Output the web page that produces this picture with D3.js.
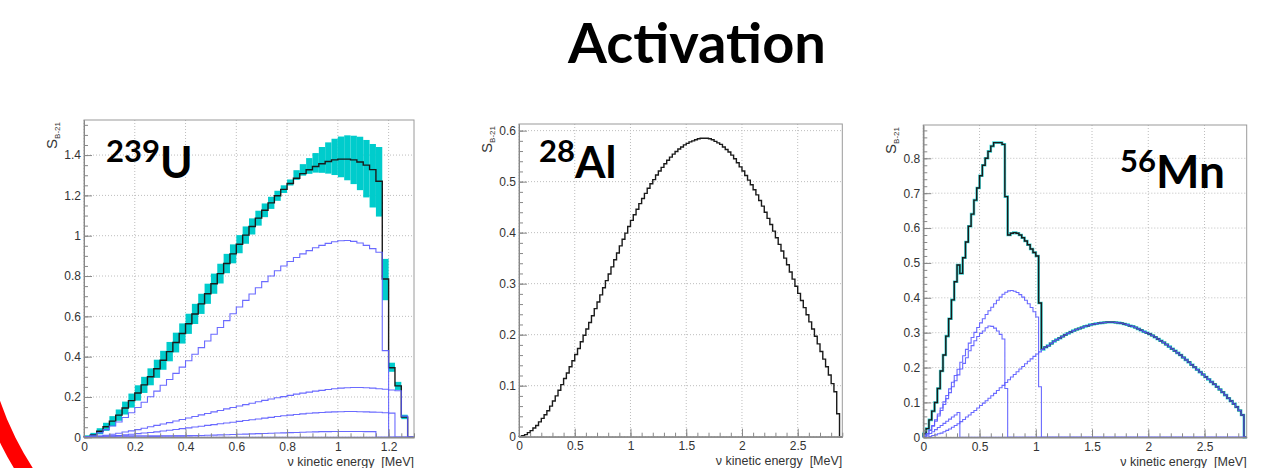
<!DOCTYPE html>
<html>
<head>
<meta charset="utf-8">
<script src="https://cdn.jsdelivr.net/npm/d3@7"></script>
<style>
  html, body { margin: 0; padding: 0; background: #fff; }
  svg { display: block; }
</style>
</head>
<body>
<svg id="chart" width="1270" height="468"></svg>
<script>
// ---------------------------------------------------------------
// Antineutrino spectra S_B-21 from activation products, 0.025 MeV bins
// ---------------------------------------------------------------
const binWidth = 0.025;

// ---- 239U ----
const u239XTicks = [0, 0.2, 0.4, 0.6, 0.8, 1, 1.2];
const u239YTicks = [0, 0.2, 0.4, 0.6, 0.8, 1, 1.2, 1.4];
const u239Total = [
  0.003,0.012,0.030,0.052,0.080,0.110,0.145,0.182,0.220,0.260,
  0.300,0.340,0.382,0.425,0.470,0.515,0.563,0.612,0.662,0.712,
  0.762,0.812,0.862,0.910,0.958,1.003,1.046,1.087,1.126,1.163,
  1.198,1.230,1.259,1.285,1.308,1.327,1.343,1.357,1.368,1.376,
  1.380,1.380,1.376,1.366,1.350,1.328,1.270,0.785,0.345,0.255,
  0.100,0];
const u239BandLow = [
  0.000,0.002,0.015,0.032,0.055,0.082,0.113,0.147,0.182,0.220,
  0.258,0.295,0.335,0.377,0.421,0.465,0.513,0.562,0.612,0.662,
  0.712,0.763,0.814,0.863,0.913,0.960,1.006,1.050,1.092,1.133,
  1.173,1.212,1.249,1.277,1.298,1.307,1.313,1.312,1.308,1.301,
  1.290,1.275,1.256,1.226,1.190,1.140,1.095,0.680,0.325,0.235,
  0.090,0];
const u239BandHigh = [
  0.010,0.022,0.045,0.072,0.105,0.138,0.177,0.217,0.258,0.300,
  0.342,0.385,0.429,0.473,0.519,0.565,0.613,0.662,0.712,0.762,
  0.812,0.861,0.910,0.957,1.003,1.046,1.086,1.124,1.160,1.193,
  1.223,1.250,1.279,1.325,1.355,1.385,1.410,1.440,1.463,1.481,
  1.492,1.498,1.496,1.491,1.475,1.455,1.440,0.885,0.370,0.275,
  0.112,0];
const u239BranchA = [
  0.003,0.010,0.022,0.038,0.056,0.076,0.098,0.122,0.148,0.174,
  0.201,0.229,0.258,0.287,0.317,0.348,0.380,0.412,0.445,0.478,
  0.511,0.545,0.579,0.613,0.646,0.679,0.711,0.742,0.772,0.800,
  0.826,0.850,0.872,0.892,0.910,0.926,0.940,0.952,0.962,0.970,
  0.975,0.976,0.972,0.964,0.952,0.936,0.918,0.430,0,0,
  0,0];
const u239BranchB = [
  0.001,0.003,0.006,0.010,0.015,0.020,0.026,0.032,0.038,0.045,
  0.052,0.059,0.066,0.073,0.081,0.088,0.096,0.103,0.111,0.118,
  0.126,0.133,0.141,0.148,0.155,0.162,0.169,0.176,0.183,0.190,
  0.196,0.202,0.208,0.214,0.219,0.224,0.229,0.233,0.237,0.241,
  0.244,0.246,0.247,0.247,0.246,0.244,0.241,0.238,0.235,0.231,
  0.105,0];
const u239BranchC = [
  0.000,0.001,0.003,0.005,0.007,0.009,0.012,0.015,0.018,0.021,
  0.024,0.027,0.031,0.035,0.039,0.043,0.047,0.051,0.055,0.059,
  0.063,0.067,0.071,0.075,0.079,0.083,0.087,0.091,0.095,0.099,
  0.103,0.107,0.110,0.113,0.116,0.119,0.121,0.123,0.125,0.126,
  0.127,0.128,0.128,0.127,0.126,0.125,0.124,0.122,0.120,0,
  0,0];
const u239BranchD = [
  0.000,0.000,0.001,0.001,0.001,0.002,0.002,0.002,0.003,0.003,
  0.004,0.004,0.005,0.005,0.006,0.006,0.007,0.008,0.009,0.010,
  0.011,0.012,0.013,0.014,0.015,0.016,0.017,0.018,0.019,0.020,
  0.021,0.022,0.023,0.024,0.025,0.026,0.027,0.028,0.028,0.029,
  0.029,0.029,0.029,0.029,0.028,0.028,0,0,0,0,
  0,0];
const u239BranchE = [
  0.002,0.004,0.005,0.006,0.006,0.007,0.007,0.007,0.008,0.008,
  0.008,0.008,0.008,0.008,0.008,0.008,0.008,0.008];

// ---- 28Al ----
const al28XTicks = [0, 0.5, 1, 1.5, 2, 2.5];
const al28YTicks = [0, 0.1, 0.2, 0.3, 0.4, 0.5, 0.6];
const al28Total = [
  0.0005,0.002,0.004,0.008,0.012,0.017,0.022,0.029,0.036,0.043,
  0.051,0.060,0.070,0.080,0.091,0.102,0.114,0.125,0.137,0.149,
  0.161,0.173,0.186,0.199,0.211,0.224,0.237,0.251,0.264,0.278,
  0.292,0.306,0.319,0.333,0.347,0.360,0.374,0.387,0.399,0.412,
  0.424,0.435,0.446,0.457,0.467,0.477,0.487,0.496,0.504,0.513,
  0.521,0.528,0.535,0.542,0.548,0.554,0.559,0.564,0.568,0.572,
  0.575,0.578,0.580,0.582,0.584,0.585,0.585,0.585,0.584,0.582,
  0.579,0.576,0.573,0.568,0.563,0.558,0.552,0.545,0.537,0.529,
  0.521,0.512,0.503,0.494,0.484,0.474,0.463,0.452,0.440,0.428,
  0.416,0.403,0.390,0.377,0.364,0.350,0.337,0.323,0.309,0.295,
  0.281,0.267,0.253,0.239,0.225,0.211,0.197,0.182,0.167,0.152,
  0.137,0.121,0.104,0.088,0.045,0];

// ---- 56Mn ----
const mn56XTicks = [0, 0.5, 1, 1.5, 2, 2.5];
const mn56YTicks = [0, 0.1, 0.2, 0.3, 0.4, 0.5, 0.6, 0.7, 0.8];
const mn56Total = [
  0.010,0.025,0.050,0.075,0.100,0.140,0.190,0.236,0.290,0.340,
  0.394,0.446,0.494,0.470,0.515,0.560,0.605,0.640,0.680,0.715,
  0.750,0.780,0.800,0.820,0.835,0.845,0.845,0.845,0.840,0.690,
  0.580,0.585,0.587,0.585,0.580,0.572,0.563,0.552,0.540,0.530,
  0.520,0.385,0.252,0.258,0.263,0.269,0.275,0.280,0.284,0.289,
  0.294,0.298,0.302,0.306,0.309,0.312,0.315,0.318,0.320,0.323,
  0.324,0.326,0.327,0.328,0.329,0.330,0.330,0.330,0.329,0.328,
  0.327,0.325,0.323,0.320,0.318,0.315,0.311,0.307,0.303,0.300,
  0.296,0.292,0.287,0.282,0.277,0.272,0.266,0.260,0.254,0.248,
  0.242,0.236,0.229,0.222,0.215,0.208,0.201,0.194,0.187,0.180,
  0.173,0.166,0.159,0.152,0.145,0.137,0.129,0.121,0.112,0.104,
  0.096,0.087,0.077,0.064,0];
const mn56Branch2849 = [
  0.000,0.001,0.002,0.005,0.007,0.010,0.012,0.016,0.020,0.024,
  0.029,0.034,0.039,0.045,0.051,0.058,0.064,0.071,0.077,0.084,
  0.091,0.098,0.105,0.112,0.119,0.126,0.134,0.142,0.149,0.157,
  0.165,0.173,0.180,0.188,0.196,0.203,0.211,0.218,0.225,0.232,
  0.239,0.245,0.252,0.258,0.263,0.269,0.275,0.280,0.284,0.289,
  0.294,0.298,0.302,0.306,0.309,0.312,0.315,0.318,0.320,0.323,
  0.324,0.326,0.327,0.328,0.329,0.330,0.330,0.330,0.329,0.328,
  0.327,0.325,0.323,0.320,0.318,0.315,0.311,0.307,0.303,0.300,
  0.296,0.292,0.287,0.282,0.277,0.272,0.266,0.260,0.254,0.248,
  0.242,0.236,0.229,0.222,0.215,0.208,0.201,0.194,0.187,0.180,
  0.173,0.166,0.159,0.152,0.145,0.137,0.129,0.121,0.112,0.104,
  0.096,0.087,0.077,0.064,0];
const mn56Branch1038 = [
  0.003,0.010,0.021,0.034,0.050,0.067,0.084,0.102,0.120,0.139,
  0.158,0.177,0.195,0.215,0.234,0.252,0.270,0.286,0.301,0.315,
  0.328,0.340,0.352,0.363,0.373,0.383,0.393,0.402,0.410,0.416,
  0.420,0.421,0.419,0.415,0.409,0.402,0.393,0.383,0.372,0.360,
  0.345,0.145];
const mn56Branch736 = [
  0.003,0.010,0.020,0.032,0.046,0.061,0.077,0.094,0.111,0.128,
  0.145,0.162,0.179,0.196,0.212,0.228,0.248,0.263,0.277,0.289,
  0.298,0.305,0.314,0.319,0.318,0.313,0.305,0.295,0.282,0.140];
const mn56Branch326 = [
  0.002,0.006,0.011,0.016,0.022,0.028,0.034,0.040,0.046,0.052,
  0.058,0.064,0.071];

// ---------------------------------------------------------------
const svg = d3.select('#chart');
const FONT = '"Liberation Sans", Arial, Helvetica, sans-serif';
const BIG = 'Lato, "Open Sans", sans-serif';
const blue = '#5a5aff';

// slide title
svg.append('text')
  .attr('x', 697).attr('y', 63)
  .attr('text-anchor', 'middle')
  .attr('font-family', BIG).attr('font-weight', 700).attr('font-size', 56)
  .attr('fill', '#000')
  .text('Activation');

// red decorative arc at the lower-left corner
svg.append('path')
  .attr('transform', 'translate(284,304)')
  .attr('d', d3.arc()({ innerRadius: 300, outerRadius: 316, startAngle: 3.9, endAngle: 4.6 }))
  .attr('fill', '#ff0000');

function histPoints(values, nBins) {
  const pts = [[0, 0]];
  for (let i = 0; i < nBins; i++) pts.push([i * binWidth, values[i] ?? 0]);
  pts.push([nBins * binWidth, 0]);
  return pts;
}

function drawPanel(p) {
  const nBins = Math.round(p.xMax / binWidth);
  const x = d3.scaleLinear().domain([0, p.xMax]).range([p.left, p.right]);
  const y = d3.scaleLinear().domain([0, p.yMax]).range([p.bottom, p.top]);
  const g = svg.append('g');

  // dotted grid at the major ticks
  g.append('g').selectAll('line').data(p.xTicks).join('line')
    .attr('x1', d => x(d)).attr('x2', d => x(d))
    .attr('y1', p.top).attr('y2', p.bottom)
    .attr('stroke', '#bdbdbd').attr('stroke-dasharray', '1,2');
  g.append('g').selectAll('line').data(p.yTicks).join('line')
    .attr('x1', p.left).attr('x2', p.right)
    .attr('y1', d => y(d)).attr('y2', d => y(d))
    .attr('stroke', '#bdbdbd').attr('stroke-dasharray', '1,2');

  const line = d3.line().x(d => x(d[0])).y(d => y(d[1])).curve(d3.curveStepAfter);

  // error band
  if (p.bandLow) {
    g.append('g').selectAll('rect')
      .data(d3.range(nBins).filter(i => (p.bandHigh[i] ?? 0) > 0))
      .join('rect')
      .attr('x', i => x(i * binWidth))
      .attr('width', i => x((i + 1) * binWidth) - x(i * binWidth))
      .attr('y', i => y(p.bandHigh[i]))
      .attr('height', i => y(p.bandLow[i]) - y(p.bandHigh[i]))
      .attr('fill', '#00cccc');
  }
  // thin uncertainty halo
  if (p.halo) {
    g.append('path').attr('d', line(histPoints(p.total, nBins)))
      .attr('fill', 'none').attr('stroke', '#3cd2d2').attr('stroke-width', 2.6);
  }
  // total spectrum
  g.append('path').attr('d', line(histPoints(p.total, nBins)))
    .attr('fill', 'none').attr('stroke', '#1a1a1a').attr('stroke-width', 1.4);
  // individual branches
  (p.branches || []).forEach(b => {
    g.append('path').attr('d', line(histPoints(b, nBins)))
      .attr('fill', 'none').attr('stroke', blue).attr('stroke-width', 1.1)
      .attr('stroke-opacity', 0.9);
  });

  // frame
  g.append('rect')
    .attr('x', p.left).attr('y', p.top)
    .attr('width', p.right - p.left).attr('height', p.bottom - p.top)
    .attr('fill', 'none').attr('stroke', '#9a9a9a').attr('stroke-width', 1);

  // axes, ticks pointing inward
  const minorY = d3.range(Math.floor(p.yMax / p.yMinor + 1e-6) + 1).map(i => i * p.yMinor);
  const minorX = d3.range(Math.floor(p.xMax / p.xMinor + 1e-6) + 1).map(i => i * p.xMinor);

  const styleAxis = sel => {
    sel.select('.domain').attr('stroke', '#888');
    sel.selectAll('.tick line').attr('stroke', '#888');
    sel.selectAll('.tick text').attr('fill', '#333')
      .attr('font-family', FONT).attr('font-size', 12);
  };

  g.append('g').attr('transform', `translate(${p.left},0)`)
    .call(d3.axisLeft(y).tickValues(minorY).tickSizeInner(-4).tickSizeOuter(0).tickFormat(''))
    .call(styleAxis);
  g.append('g').attr('transform', `translate(${p.left},0)`)
    .call(d3.axisLeft(y).tickValues(p.yTicks).tickSizeInner(-8).tickSizeOuter(0)
      .tickPadding(3).tickFormat(d => String(d)))
    .call(styleAxis);
  g.append('g').attr('transform', `translate(0,${p.bottom})`)
    .call(d3.axisBottom(x).tickValues(minorX).tickSizeInner(-4).tickSizeOuter(0).tickFormat(''))
    .call(styleAxis);
  g.append('g').attr('transform', `translate(0,${p.bottom})`)
    .call(d3.axisBottom(x).tickValues(p.xTicks).tickSizeInner(-8).tickSizeOuter(0)
      .tickPadding(5).tickFormat(d => String(d)))
    .call(styleAxis);

  // axis titles
  g.append('text')
    .attr('x', p.right).attr('y', p.bottom + 28.5)
    .attr('text-anchor', 'end')
    .attr('font-family', FONT).attr('font-size', 12.5).attr('fill', '#333')
    .text('\u03bd kinetic energy\u00a0 [MeV]');
  const yt = g.append('text')
    .attr('transform', `translate(${p.yTitleX},${p.top + 2}) rotate(-90)`)
    .attr('text-anchor', 'end')
    .attr('font-family', FONT).attr('font-size', 15).attr('fill', '#333');
  yt.append('tspan').text('S');
  yt.append('tspan').attr('dy', 3).attr('font-size', 8).text('B-21');

  // isotope label
  const lab = g.append('text')
    .attr('x', p.labelX).attr('y', p.labelY)
    .attr('font-family', BIG).attr('font-weight', 700).attr('fill', '#000');
  lab.append('tspan').attr('font-size', 31).attr('dy', -16).text(p.mass);
  lab.append('tspan').attr('font-size', p.elemSize).attr('dy', 16).text(p.element);
}

drawPanel({
  left: 84, right: 414, top: 120, bottom: 437.3,
  xMax: 1.3, yMax: 1.574, xTicks: u239XTicks, yTicks: u239YTicks,
  xMinor: 0.05, yMinor: 0.05,
  total: u239Total, bandLow: u239BandLow, bandHigh: u239BandHigh,
  branches: [u239BranchA, u239BranchB, u239BranchC, u239BranchD, u239BranchE],
  yTitleX: 57, labelX: 106, labelY: 178, mass: '239', element: 'U', elemSize: 44
});

drawPanel({
  left: 519, right: 842.3, top: 124, bottom: 436.7,
  xMax: 2.9, yMax: 0.613, xTicks: al28XTicks, yTicks: al28YTicks,
  xMinor: 0.1, yMinor: 0.02,
  total: al28Total,
  yTitleX: 492, labelX: 539, labelY: 178, mass: '28', element: 'Al', elemSize: 44
});

drawPanel({
  left: 923.3, right: 1246.7, top: 125, bottom: 437.3,
  xMax: 2.875, yMax: 0.8955, xTicks: mn56XTicks, yTicks: mn56YTicks,
  xMinor: 0.1, yMinor: 0.02,
  total: mn56Total, halo: true,
  branches: [mn56Branch2849, mn56Branch1038, mn56Branch736, mn56Branch326],
  yTitleX: 896, labelX: 1120, labelY: 188, mass: '56', element: 'Mn', elemSize: 46
});
</script>
</body>
</html>
